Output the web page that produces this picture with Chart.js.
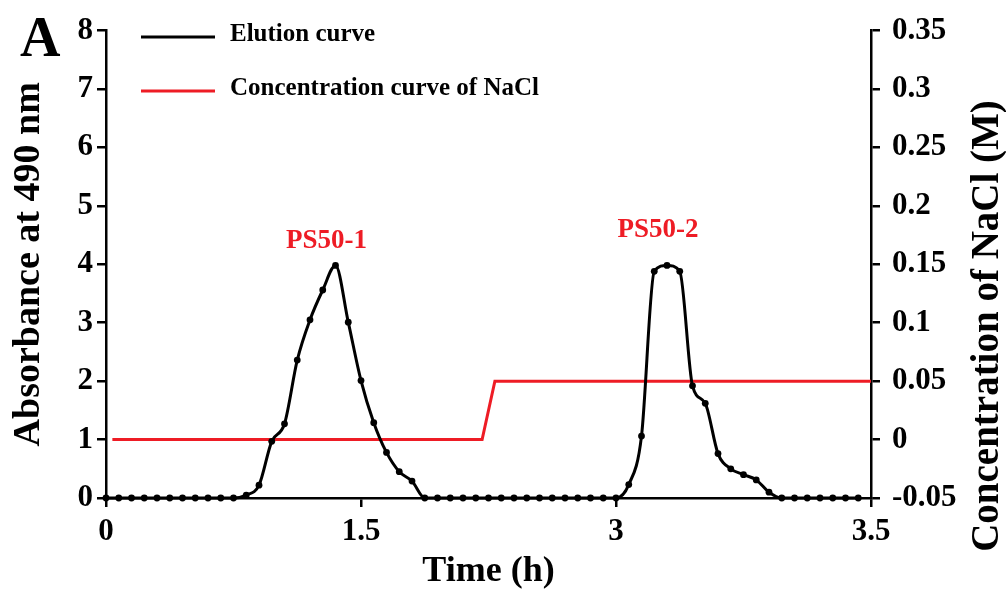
<!DOCTYPE html>
<html>
<head>
<meta charset="utf-8">
<script src="https://cdn.jsdelivr.net/npm/chart.js@4.4.1/dist/chart.umd.min.js"></script>
<style>
  html, body { margin: 0; padding: 0; background: #fff; }
  #wrap { width: 1006px; height: 593px; position: relative; }
</style>
</head>
<body>
<div id="wrap"><canvas id="c" width="1006" height="593"></canvas></div>
<script>
// ---- Data ----
// Elution curve (absorbance at 490 nm), one value per collected fraction (index 0..59)
const elution = [
  0, 0, 0, 0, 0, 0, 0, 0, 0, 0, 0,
  0.05, 0.22, 0.97, 1.27, 2.36, 3.05, 3.56, 3.98, 3.01, 2.01, 1.29, 0.78, 0.45, 0.29,
  0, 0, 0, 0, 0, 0, 0, 0, 0, 0, 0, 0, 0, 0, 0, 0,
  0.23, 1.06, 3.88, 3.98, 3.88, 1.92, 1.62, 0.76, 0.50, 0.40, 0.31, 0.10,
  0, 0, 0, 0, 0, 0, 0
];
// NaCl concentration curve (M): breakpoints on the fraction-index axis
const naclX = [0.5, 29.5, 30.5, 60];
const naclY = [0, 0, 0.05, 0.05];

// x-axis tick positions (fraction index) and their time labels (h)
const xTickPos = [0, 20, 40, 60];
const xTickLabels = ['0', '1.5', '3', '3.5'];
// y-axis tick values
const rightTicks = [-0.05, 0, 0.05, 0.1, 0.15, 0.2, 0.25, 0.3, 0.35];
const leftTicks = [0, 1, 2, 3, 4, 5, 6, 7, 8];

// peak labels [text, x (index), y (absorbance)]
const peakLabels = [
  ['PS50-1', 17.3, 4.4],
  ['PS50-2', 43.3, 4.59]
];
const legendItems = [
  ['Elution curve', '#000000'],
  ['Concentration curve of NaCl', '#ee1c25']
];
const rightTitle = 'Concentration of NaCl (M)';

const FONT = '"Liberation Serif", "Times New Roman", serif';
const RED = '#ee1c25';

const decorPlugin = {
  id: 'decor',
  afterDatasetsDraw(chart) {
    const ctx = chart.ctx;
    const xs = chart.scales.x, ys = chart.scales.y;
    ctx.save();
    // peak labels
    ctx.fillStyle = RED;
    ctx.font = 'bold 27px ' + FONT;
    ctx.textAlign = 'center';
    ctx.textBaseline = 'middle';
    peakLabels.forEach(([t, x, y]) => ctx.fillText(t, xs.getPixelForValue(x), ys.getPixelForValue(y)));
    // legend
    ctx.font = 'bold 25px ' + FONT;
    ctx.textAlign = 'left';
    legendItems.forEach(([t, col], i) => {
      const ly = 37 + i * 54;
      ctx.strokeStyle = col;
      ctx.lineWidth = 3;
      ctx.beginPath();
      ctx.moveTo(141, ly);
      ctx.lineTo(215, ly);
      ctx.stroke();
      ctx.fillStyle = '#000';
      ctx.fillText(t, 230, ly - 2);
    });
    // panel letter
    ctx.font = 'bold 56px ' + FONT;
    ctx.fillStyle = '#000';
    ctx.textAlign = 'left';
    ctx.textBaseline = 'alphabetic';
    ctx.fillText('A', 20, 56);
    // right axis title, reading bottom-to-top
    ctx.save();
    ctx.translate(988, 326);
    ctx.rotate(-Math.PI / 2);
    ctx.font = 'bold 39px ' + FONT;
    ctx.textAlign = 'center';
    ctx.textBaseline = 'middle';
    ctx.fillText(rightTitle, 0, 0);
    ctx.restore();
    ctx.restore();
  }
};

const axisCommon = {
  border: { display: true, color: '#000', width: 2.5 },
  grid: { drawOnChartArea: false, drawTicks: true, tickLength: 9, color: '#000', lineWidth: 2.5 },
};

new Chart(document.getElementById('c'), {
  type: 'line',
  data: {
    datasets: [
      {
        label: 'Elution curve',
        data: elution.map((v, i) => ({ x: i, y: v })),
        yAxisID: 'y',
        borderColor: '#000',
        backgroundColor: '#000',
        borderWidth: 3,
        pointRadius: 3.4,
        pointBorderWidth: 0,
        pointBackgroundColor: '#000',
        cubicInterpolationMode: 'monotone',
        clip: false
      },
      {
        label: 'Concentration curve of NaCl',
        data: naclX.map((x, i) => ({ x: x, y: naclY[i] })),
        yAxisID: 'y2',
        borderColor: RED,
        borderWidth: 3,
        pointRadius: 0,
        tension: 0,
        clip: false
      }
    ]
  },
  options: {
    responsive: false,
    animation: false,
    devicePixelRatio: 1,
    layout: { padding: { top: 28, left: 0, right: 0, bottom: 0 } },
    plugins: { legend: { display: false }, tooltip: { enabled: false } },
    scales: {
      x: {
        type: 'linear',
        min: 0, max: 60,
        ...axisCommon,
        afterBuildTicks(s) { s.ticks = xTickPos.map(v => ({ value: v })); },
        afterFit(s) { s.height = 95; },
        ticks: {
          color: '#000',
          font: { family: FONT, size: 31, weight: 'bold' },
          padding: 6,
          maxRotation: 0,
          autoSkip: false,
          callback(v) { return xTickLabels[xTickPos.indexOf(v)]; }
        },
        title: {
          display: true, text: 'Time (h)', color: '#000',
          font: { family: FONT, size: 36, weight: 'bold' },
          padding: { top: 0, bottom: 0 }
        }
      },
      y: {
        type: 'linear', position: 'left',
        min: 0, max: 8,
        ...axisCommon,
        afterBuildTicks(s) { s.ticks = leftTicks.map(v => ({ value: v })); },
        afterFit(s) { s.width = 106; },
        ticks: {
          color: '#000',
          font: { family: FONT, size: 31, weight: 'bold' },
          padding: 4
        },
        title: {
          display: true, text: 'Absorbance at 490 nm', color: '#000',
          font: { family: FONT, size: 38, weight: 'bold' },
          padding: { top: 6, bottom: 0 }
        }
      },
      y2: {
        type: 'linear', position: 'right',
        min: -0.05, max: 0.35,
        ...axisCommon,
        afterBuildTicks(s) { s.ticks = rightTicks.map(v => ({ value: v })); },
        afterFit(s) { s.width = 135; },
        ticks: {
          color: '#000',
          font: { family: FONT, size: 31, weight: 'bold' },
          padding: 12,
          callback(v) { return String(Number(v.toFixed(2))); }
        },
        title: { display: false }
      }
    }
  },
  plugins: [decorPlugin]
});
</script>
</body>
</html>
